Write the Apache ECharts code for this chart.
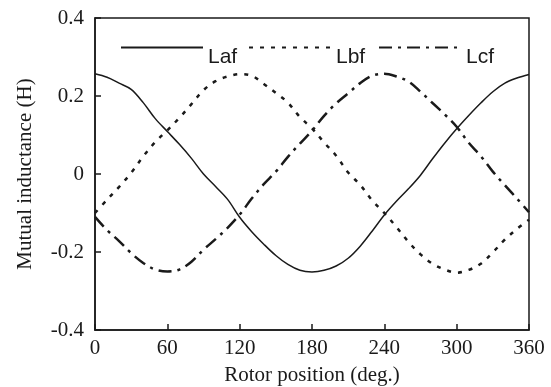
<!DOCTYPE html>
<html>
<head>
<meta charset="utf-8">
<script src="https://cdn.jsdelivr.net/npm/echarts@6/dist/echarts.min.js"></script>
<style>
  html, body { margin: 0; padding: 0; background: #fff; }
  #chart { width: 551px; height: 387px; }
</style>
</head>
<body>
<div id="chart"></div>
<script>
// Rotor position samples (degrees), one every 10 deg
const positions = [0,10,20,30,40,50,60,70,80,90,100,110,120,130,140,150,160,170,180,
  190,200,210,220,230,240,250,260,270,280,290,300,310,320,330,340,350,360];

// Mutual inductance between field winding and each phase (H)
const laf = [0.257,0.248,0.233,0.217,0.183,0.142,0.109,0.076,0.040,0.000,-0.032,-0.065,-0.111,
  -0.148,-0.180,-0.209,-0.232,-0.247,-0.251,-0.247,-0.236,-0.216,-0.185,-0.146,-0.105,-0.070,
  -0.038,-0.003,0.039,0.079,0.116,0.150,0.182,0.211,0.233,0.246,0.255];
const lbf = [-0.100,-0.066,-0.033,0.003,0.045,0.082,0.112,0.144,0.179,0.215,0.238,0.250,0.256,
  0.252,0.231,0.208,0.183,0.146,0.117,0.081,0.047,0.004,-0.028,-0.068,-0.100,-0.136,-0.174,
  -0.206,-0.230,-0.245,-0.253,-0.246,-0.230,-0.201,-0.168,-0.141,-0.117];
const lcf = [-0.110,-0.144,-0.172,-0.203,-0.228,-0.245,-0.250,-0.245,-0.225,-0.194,-0.167,-0.138,
  -0.104,-0.063,-0.026,0.006,0.044,0.078,0.111,0.149,0.181,0.207,0.233,0.252,0.257,0.250,0.237,
  0.211,0.182,0.153,0.121,0.080,0.046,0.006,-0.029,-0.063,-0.098];

const seriesNames = ['Laf', 'Lbf', 'Lcf'];
const xTicks = [0, 60, 120, 180, 240, 300, 360];
const yTicks = [-0.4, -0.2, 0, 0.2, 0.4];

const pair = (vals) => positions.map((p, i) => [p, vals[i]]);

const ink = '#1a1a1a';
const serif = '"Liberation Serif", "DejaVu Serif", serif';
const sans = '"Liberation Sans", Arial, sans-serif';

// One legend per series so each key sits at its own spot along the top;
// the name is set a little below the line sample.
function legendAt(name, left) {
  return {
    data: [name],
    left: left,
    top: 42,
    padding: 0,
    itemWidth: 82,
    itemHeight: 14,
    selectedMode: false,
    itemStyle: { opacity: 0 },
    formatter: (n) => '{t|' + n + '}',
    textStyle: {
      color: ink,
      rich: { t: { fontFamily: sans, fontSize: 21, color: ink, padding: [20, 0, 0, 0] } }
    }
  };
}

const chart = echarts.init(document.getElementById('chart'), null, { renderer: 'canvas' });
chart.setOption({
  animation: false,
  backgroundColor: '#fff',
  grid: {
    left: 95, right: 22, top: 18, bottom: 57,
    outerBoundsMode: 'none',
    show: true, borderColor: ink, borderWidth: 1.5, backgroundColor: 'transparent'
  },
  legend: [legendAt(seriesNames[0], 120), legendAt(seriesNames[1], 248), legendAt(seriesNames[2], 378)],
  xAxis: {
    type: 'value',
    min: xTicks[0], max: xTicks[xTicks.length - 1], interval: 60,
    name: 'Rotor position (deg.)',
    nameLocation: 'middle', nameGap: 35,
    nameTextStyle: { fontFamily: serif, fontSize: 21, color: ink },
    axisLine: { onZero: false, lineStyle: { color: ink, width: 1.5 } },
    axisTick: { inside: true, length: 6, lineStyle: { color: ink, width: 1.5 } },
    axisLabel: { fontFamily: serif, fontSize: 21, color: ink, margin: 8 },
    splitLine: { show: false }
  },
  yAxis: {
    type: 'value',
    min: yTicks[0], max: yTicks[yTicks.length - 1], interval: 0.2,
    name: 'Mutual inductance (H)',
    nameLocation: 'middle', nameGap: 59,
    nameTextStyle: { fontFamily: serif, fontSize: 21, color: ink },
    axisLine: { show: true, onZero: false, lineStyle: { color: ink, width: 1.5 } },
    axisTick: { show: true, inside: true, length: 6, lineStyle: { color: ink, width: 1.5 } },
    axisLabel: { fontFamily: serif, fontSize: 21, color: ink, margin: 11 },
    splitLine: { show: false }
  },
  series: [
    {
      name: seriesNames[0], type: 'line', data: pair(laf), showSymbol: false, symbol: 'none',
      smooth: 0.35, lineStyle: { color: ink, width: 1.5, type: 'solid' }
    },
    {
      name: seriesNames[1], type: 'line', data: pair(lbf), showSymbol: false, symbol: 'none',
      smooth: 0.35, lineStyle: { color: ink, width: 2.5, type: [4, 7] }
    },
    {
      name: seriesNames[2], type: 'line', data: pair(lcf), showSymbol: false, symbol: 'none',
      smooth: 0.35, lineStyle: { color: ink, width: 2.5, type: [13, 6, 3, 6] }
    }
  ]
});
</script>
</body>
</html>
